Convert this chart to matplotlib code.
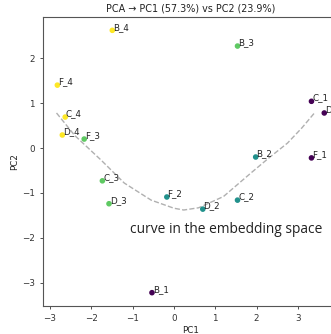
import numpy as np
import matplotlib
matplotlib.use("Agg")
import matplotlib.pyplot as plt

# samples projected on the first two components
labels = ["B_4", "B_3", "F_4", "C_1", "D_1", "C_4", "D_4", "F_3",
          "B_2", "F_1", "C_3", "F_2", "D_3", "C_2", "D_2", "B_1"]
pc1 = [-1.49, 1.54, -2.82, 3.33, 3.64, -2.63, -2.70, -2.17,
       1.98, 3.33, -1.73, -0.17, -1.57, 1.54, 0.70, -0.53]
pc2 = [2.62, 2.27, 1.40, 1.04, 0.78, 0.69, 0.29, 0.20,
       -0.20, -0.22, -0.73, -1.09, -1.24, -1.16, -1.36, -3.22]
group = [4, 3, 4, 1, 1, 4, 4, 3, 2, 1, 3, 2, 3, 2, 2, 1]

# fitted curve
curve_x = [-2.84, -2.4, -1.76, -1.2, -0.55, 0.0, 0.24, 0.6, 1.2, 1.86, 2.3, 2.75, 3.1, 3.42]
curve_y = [0.78, 0.28, -0.27, -0.78, -1.16, -1.34, -1.38, -1.33, -1.08, -0.56, -0.22, 0.11, 0.45, 0.80]

group_colors = {1: "#440154", 2: "#21918c", 3: "#5ec962", 4: "#fde725"}

fig = plt.figure(figsize=(3.31, 3.34), dpi=100)
ax = fig.add_axes([43.3 / 331, (334 - 305.7) / 334, (337.5 - 43.3) / 331, (305.7 - 17.3) / 334])

ax.plot(curve_x, curve_y, ls="--", color="#b0b0b0", lw=1.0, zorder=1)
ax.scatter(pc1, pc2, c=[group_colors[g] for g in group], s=9, zorder=2)
for lab, x, y in zip(labels, pc1, pc2):
    ax.annotate(lab, (x, y), xytext=(0.5, 0.5), textcoords="offset points",
                fontsize=6.3, color="#222222")

ax.text(-1.05, -1.82, "curve in the embedding space", fontsize=9.9,
        family="Open Sans", ha="left", va="center", color="#222222")

ax.set_xlim(-3.16, 3.96)
ax.set_ylim(-3.51, 2.91)
ax.set_xticks([-3, -2, -1, 0, 1, 2, 3])
ax.set_yticks([-3, -2, -1, 0, 1, 2])
ax.tick_params(labelsize=6.3, length=2.5, width=0.6, colors="#333333")
for sp in ax.spines.values():
    sp.set_linewidth(0.8)
    sp.set_color("#555555")
ax.set_xlabel("PC1", fontsize=6.3, labelpad=2, color="#222222")
ax.set_ylabel("PC2", fontsize=6.3, labelpad=2, color="#222222")
ax.set_title("PCA \u2192 PC1 (57.3%) vs PC2 (23.9%)", fontsize=6.9, pad=4, color="#222222")

fig.savefig("out.png", dpi=100)
